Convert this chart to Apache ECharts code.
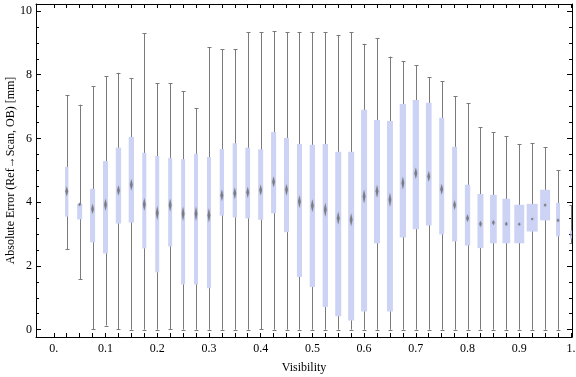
<!DOCTYPE html>
<html>
<head>
<meta charset="utf-8">
<script src="https://cdn.jsdelivr.net/npm/echarts@6/dist/echarts.min.js"></script>
<style>
  html, body { margin: 0; padding: 0; background: #fff; }
  #main { width: 576px; height: 377px; }
</style>
</head>
<body>
<div id="main"></div>
<script>
// visibility bins (box centres)
var visibility = [0.025, 0.05, 0.075, 0.1, 0.125, 0.15, 0.175, 0.2, 0.225, 0.25,
                  0.275, 0.3, 0.325, 0.35, 0.375, 0.4, 0.425, 0.45, 0.475, 0.5,
                  0.525, 0.55, 0.575, 0.6, 0.625, 0.65, 0.675, 0.7, 0.725, 0.75,
                  0.775, 0.8, 0.825, 0.85, 0.875, 0.9, 0.925, 0.95, 0.975, 1.0];
// whisker ends, quartiles, medians [mm]
var whiskerLow = [2.53, 1.59, 0.02, 0.13, 0.02, 0.0, 0.0, 0.0, 0.02, 0.0,
                  0.0, 0.0, 0.0, 0.0, 0.0, 0.02, 0.0, 0.0, 0.0, 0.0,
                  0.0, 0.0, 0.0, 0.0, 0.0, 0.0, 0.0, 0.0, 0.0, 0.0,
                  0.0, 0.0, 0.0, 0.0, 0.0, 0.0, 0.0, 0.0, 0.0, 2.71];
var q1 = [3.55, 3.46, 2.74, 2.39, 3.33, 3.36, 2.55, 1.80, 2.61, 1.42,
          1.42, 1.30, 3.58, 3.52, 3.49, 3.45, 3.65, 3.06, 1.65, 1.34,
          0.71, 0.42, 0.29, 0.57, 2.71, 0.57, 2.89, 3.15, 3.27, 2.99,
          2.77, 2.64, 2.56, 2.71, 2.71, 2.71, 3.08, 3.43, 2.93, 2.86];
var median = [4.34, 3.93, 3.79, 3.92, 4.37, 4.55, 3.93, 3.66, 3.91, 3.64,
              3.64, 3.59, 4.22, 4.28, 4.31, 4.38, 4.64, 4.39, 4.02, 3.89,
              3.76, 3.50, 3.45, 4.18, 4.34, 4.08, 4.60, 4.91, 4.81, 4.41,
              3.91, 3.50, 3.32, 3.36, 3.32, 3.31, 3.47, 3.91, 3.43, 2.98];
var q3 = [5.11, 3.95, 4.42, 5.29, 5.71, 6.05, 5.55, 5.45, 5.39, 5.35,
          5.52, 5.42, 5.67, 5.85, 5.71, 5.66, 6.20, 6.02, 5.83, 5.80,
          5.83, 5.58, 5.58, 6.90, 6.58, 6.55, 7.08, 7.21, 7.12, 6.65,
          5.74, 4.55, 4.26, 4.23, 4.11, 3.92, 3.95, 4.39, 3.98, 3.11];
var whiskerHigh = [7.35, 7.06, 7.64, 7.95, 8.06, 7.89, 9.30, 7.73, 7.73, 7.49,
                   6.95, 8.86, 8.80, 8.80, 9.33, 9.33, 9.36, 9.33, 9.33, 9.33,
                   9.33, 9.25, 9.33, 8.97, 9.14, 8.57, 8.42, 8.30, 7.92, 7.80,
                   7.33, 7.11, 6.35, 6.20, 6.07, 5.82, 5.85, 5.73, 5.01, 3.91];
// box widths (in visibility units) and median-diamond half heights (in mm)
var boxWidth = [0.0064, 0.0097, 0.0097, 0.0097, 0.0103, 0.0103, 0.0077, 0.0077, 0.0077, 0.0077,
                0.0077, 0.0077, 0.0083, 0.0083, 0.0091, 0.0097, 0.0097, 0.0097, 0.0097, 0.0103,
                0.0103, 0.0116, 0.0116, 0.0116, 0.0116, 0.0116, 0.0122, 0.0122, 0.0110, 0.0097,
                0.0097, 0.0103, 0.0116, 0.0130, 0.0149, 0.0193, 0.0213, 0.0193, 0.0077, 0.0039];
var diamondHalf = [0.15, 0.06, 0.16, 0.19, 0.16, 0.18, 0.20, 0.22, 0.20, 0.22,
                   0.22, 0.22, 0.18, 0.18, 0.17, 0.17, 0.17, 0.18, 0.20, 0.20,
                   0.22, 0.20, 0.20, 0.22, 0.20, 0.22, 0.20, 0.18, 0.17, 0.17,
                   0.15, 0.12, 0.10, 0.08, 0.07, 0.05, 0.04, 0.05, 0.06, 0.04];

// tick labels
var xLabelValues = [0, 0.1, 0.2, 0.3, 0.4, 0.5, 0.6, 0.7, 0.8, 0.9, 1.0];
var xLabels = ['0.', '0.1', '0.2', '0.3', '0.4', '0.5', '0.6', '0.7', '0.8', '0.9', '1.'];
var yLabelValues = [0, 2, 4, 6, 8, 10];
var yLabels = ['0', '2', '4', '6', '8', '10'];

var xTicks = [];
for (var i = 0; i <= 40; i++) xTicks.push(+(i * 0.025).toFixed(3));
var yMinor = [];
for (var j = 0; j <= 20; j++) yMinor.push(j * 0.5);

var data = visibility.map(function (v, i) {
  return [v, whiskerLow[i], q1[i], median[i], q3[i], whiskerHigh[i], boxWidth[i], diamondHalf[i]];
});

var FONT = 'Liberation Serif';
var XMIN = -0.0344, XMAX = 1.002, YMIN = -0.23, YMAX = 10.22;

function renderItem(params, api) {
  var x = api.value(0);
  var pLo = api.coord([x, api.value(1)]);
  var pQ1 = api.coord([x, api.value(2)]);
  var pMed = api.coord([x, api.value(3)]);
  var pQ3 = api.coord([x, api.value(4)]);
  var pHi = api.coord([x, api.value(5)]);
  var bw = api.size([api.value(6), 0])[0];
  var dh = api.size([0, api.value(7)])[1];
  var cx = Math.round(pLo[0]) + 0.5;
  var wStyle = { stroke: '#7a7a7a', lineWidth: 1 };
  var hw = Math.min(1.4, bw / 2);
  return {
    type: 'group',
    children: [
      { type: 'line', shape: { x1: cx, y1: pLo[1], x2: cx, y2: pHi[1] }, style: wStyle },
      { type: 'line', shape: { x1: cx - 2, y1: Math.round(pLo[1]) + 0.5, x2: cx + 2, y2: Math.round(pLo[1]) + 0.5 }, style: wStyle },
      { type: 'line', shape: { x1: cx - 2, y1: Math.round(pHi[1]) + 0.5, x2: cx + 2, y2: Math.round(pHi[1]) + 0.5 }, style: wStyle },
      { type: 'rect', shape: { x: pQ3[0] - bw / 2, y: pQ3[1], width: bw, height: pQ1[1] - pQ3[1] },
        style: { fill: '#cdd3f5' } },
      { type: 'polygon',
        shape: { points: [[pMed[0], pMed[1] - dh], [pMed[0] + hw, pMed[1]], [pMed[0], pMed[1] + dh], [pMed[0] - hw, pMed[1]]] },
        style: { fill: 'rgba(105,105,110,0.75)', shadowBlur: 1.5, shadowColor: 'rgba(105,105,110,0.5)' } }
    ]
  };
}

function xAxisCfg(pos, withLabels) {
  return {
    type: 'value', position: pos, min: XMIN, max: XMAX,
    axisLine: { show: true, onZero: false, lineStyle: { color: '#000', width: 1 } },
    axisTick: { show: true, inside: true, length: 4, customValues: xTicks, lineStyle: { color: '#000' } },
    axisLabel: {
      show: withLabels, customValues: xLabelValues, margin: 6,
      fontFamily: FONT, fontSize: 12, color: '#000',
      formatter: function (v) { return xLabels[Math.round(v * 10)]; }
    },
    splitLine: { show: false },
    name: withLabels ? 'Visibility' : '', nameLocation: 'middle', nameGap: 25,
    nameMoveOverlap: false,
    nameTextStyle: { fontFamily: FONT, fontSize: 12, color: '#000' }
  };
}

function yAxisCfg(pos, major, withLabels) {
  return {
    type: 'value', position: pos, min: YMIN, max: YMAX,
    axisLine: { show: major, onZero: false, lineStyle: { color: '#000', width: 1 } },
    axisTick: { show: true, inside: true, length: major ? 5 : 3,
                customValues: major ? yLabelValues : yMinor, lineStyle: { color: '#000' } },
    axisLabel: {
      show: withLabels, customValues: yLabelValues, margin: 4,
      fontFamily: FONT, fontSize: 12, color: '#000',
      formatter: function (v) { return yLabels[Math.round(v / 2)]; }
    },
    splitLine: { show: false },
    name: withLabels ? 'Absolute Error (Ref\u2192Scan, OB) [mm]' : '',
    nameLocation: 'middle', nameGap: 19, nameMoveOverlap: false,
    nameTextStyle: { fontFamily: FONT, fontSize: 12, color: '#000' }
  };
}

var myChart = echarts.init(document.getElementById('main'));
myChart.setOption({
  animation: false,
  grid: { left: 36, right: 4, top: 4, bottom: 40, containLabel: false, outerBoundsMode: 'none' },
  xAxis: [xAxisCfg('bottom', true), xAxisCfg('top', false)],
  yAxis: [yAxisCfg('left', true, true), yAxisCfg('left', false, false),
          yAxisCfg('right', true, false), yAxisCfg('right', false, false)],
  series: [{
    type: 'custom',
    renderItem: renderItem,
    clip: true,
    encode: { x: 0, y: [1, 2, 3, 4, 5] },
    data: data
  }]
});
</script>
</body>
</html>
